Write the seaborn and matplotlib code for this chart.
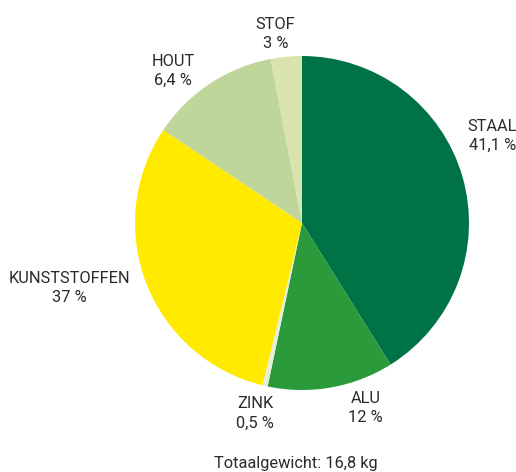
import matplotlib
matplotlib.use('Agg')
import matplotlib.pyplot as plt
import seaborn as sns

# Materialen (volgorde met de klok mee, vanaf boven)
materialen = ['STAAL', 'ALU', 'ZINK', 'KUNSTSTOFFEN', 'HOUT', 'STOF']
# Grootte van de sectoren zoals getekend in de figuur
aandelen = [41.1, 12.2, 0.5, 30.6, 12.6, 3.0]
# Percentages zoals vermeld in de labels
label_tekst = ['41,1 %', '12 %', '0,5 %', '37 %', '6,4 %', '3 %']
kleuren = ['#007346', '#2a9a3a', '#e8efd8', '#ffea00', '#bfd69b', '#d9e3ae']

# labelposities in eenheden van de straal
label_pos = {
    'STAAL': (1.14, 0.52),
    'ALU': (0.38, -1.11),
    'ZINK': (-0.28, -1.14),
    'KUNSTSTOFFEN': (-1.39, -0.39),
    'HOUT': (-0.77, 0.91),
    'STOF': (-0.16, 1.13),
}

sns.set_theme(style='white')
plt.rcParams['font.family'] = ['Roboto', 'DejaVu Sans']

fig = plt.figure(figsize=(5.16, 4.72), dpi=100)
ax = fig.add_axes([135 / 516, 82 / 472, 334 / 516, 334 / 472])

ax.pie(aandelen, colors=kleuren, startangle=90, counterclock=False,
       radius=1.0, wedgeprops={'linewidth': 0})

for naam, pct in zip(materialen, label_tekst):
    x, y = label_pos[naam]
    ax.text(x, y, f'{naam}\n{pct}', ha='center', va='center',
            fontsize=11.8, color='#2a2a2a', linespacing=1.35)

ax.text(-0.04, -1.44, 'Totaalgewicht: 16,8 kg', ha='center', va='center',
        fontsize=11.8, color='#2a2a2a')

ax.set_xlim(-1, 1)
ax.set_ylim(-1, 1)
ax.set_aspect('equal')
ax.axis('off')

plt.savefig('out.png', dpi=100)
plt.close()
